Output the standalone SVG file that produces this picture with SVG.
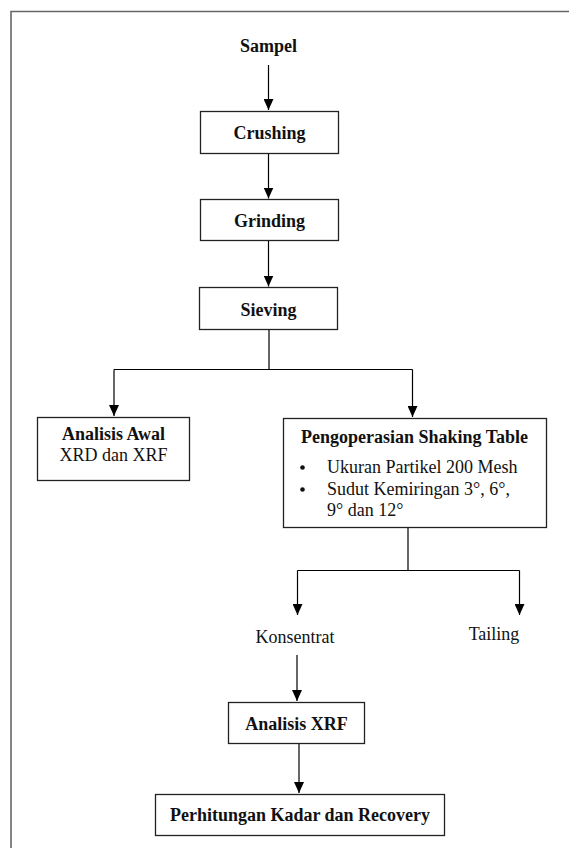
<svg xmlns="http://www.w3.org/2000/svg" width="569" height="848" viewBox="0 0 569 848">
<defs>
<marker id="ah" markerUnits="userSpaceOnUse" markerWidth="11" markerHeight="10" viewBox="0 0 11 10" refX="11" refY="5" orient="auto">
<path d="M0,0 L11,5 L0,10 Z" fill="#000"/>
</marker>
</defs>
<style>
.box{fill:#fff;stroke:#222;stroke-width:1.3}
.b{font-family:"Liberation Serif","Times New Roman",serif;font-weight:bold;font-size:18px;fill:#111;text-anchor:middle}
.r{font-family:"Liberation Serif","Times New Roman",serif;font-size:18px;fill:#111}
.c{stroke:#000;stroke-width:1.2;fill:none}
.a{stroke:#000;stroke-width:1.2;fill:none;marker-end:url(#ah)}
</style>
<rect width="569" height="848" fill="#fff"/>
<path d="M11,848 V11.5 H569" fill="none" stroke="#666" stroke-width="1.6"/>

<g id="sampel"><text class="b" x="268.5" y="52">Sampel</text></g>
<g id="crushing"><rect class="box" x="200.5" y="111.5" width="138" height="42"/><text class="b" x="269.5" y="138.5">Crushing</text></g>
<g id="grinding"><rect class="box" x="200.5" y="199.5" width="138" height="41"/><text class="b" x="269.5" y="227">Grinding</text></g>
<g id="sieving"><rect class="box" x="199.5" y="287.5" width="138" height="42"/><text class="b" x="268.5" y="315.5">Sieving</text></g>
<g id="analisis-awal"><rect class="box" x="37.5" y="417.5" width="152" height="63"/><text class="b" x="113.5" y="440">Analisis Awal</text><text class="r" x="113.5" y="461" text-anchor="middle">XRD dan XRF</text></g>
<g id="shaking-table"><rect class="box" x="283.5" y="418.5" width="263" height="109"/>
<text class="b" x="414.5" y="443">Pengoperasian Shaking Table</text>
<circle cx="302.5" cy="467.5" r="2.3" fill="#111"/>
<text class="r" x="327" y="473">Ukuran Partikel 200 Mesh</text>
<circle cx="302.5" cy="489.5" r="2.3" fill="#111"/>
<text class="r" x="327" y="495">Sudut Kemiringan 3°, 6°,</text>
<text class="r" x="327" y="516">9° dan 12°</text></g>
<g id="konsentrat"><text class="r" x="295" y="643" text-anchor="middle">Konsentrat</text></g>
<g id="tailing"><text class="r" x="494" y="640" text-anchor="middle">Tailing</text></g>
<g id="analisis-xrf"><rect class="box" x="228.5" y="702.5" width="136" height="41"/><text class="b" x="296.5" y="730">Analisis XRF</text></g>
<g id="perhitungan"><rect class="box" x="155.5" y="794.5" width="289" height="41"/><text class="b" x="300" y="821">Perhitungan Kadar dan Recovery</text></g>

<g id="connectors">
<path class="a" d="M268.5,65 V110"/>
<path class="a" d="M268.5,154 V198.5"/>
<path class="a" d="M268.5,241 V286.5"/>
<path class="c" d="M269,330 V369.5 M114,369.5 H412.5"/>
<path class="a" d="M114,369.5 V416"/>
<path class="a" d="M412.5,369.5 V417"/>
<path class="c" d="M408,528 V570.5 M297.5,570.5 H519.5"/>
<path class="a" d="M297.5,570.5 V615"/>
<path class="a" d="M519.5,570.5 V615"/>
<path class="a" d="M297,655 V701"/>
<path class="a" d="M299,744 V793"/>
</g>
</svg>
